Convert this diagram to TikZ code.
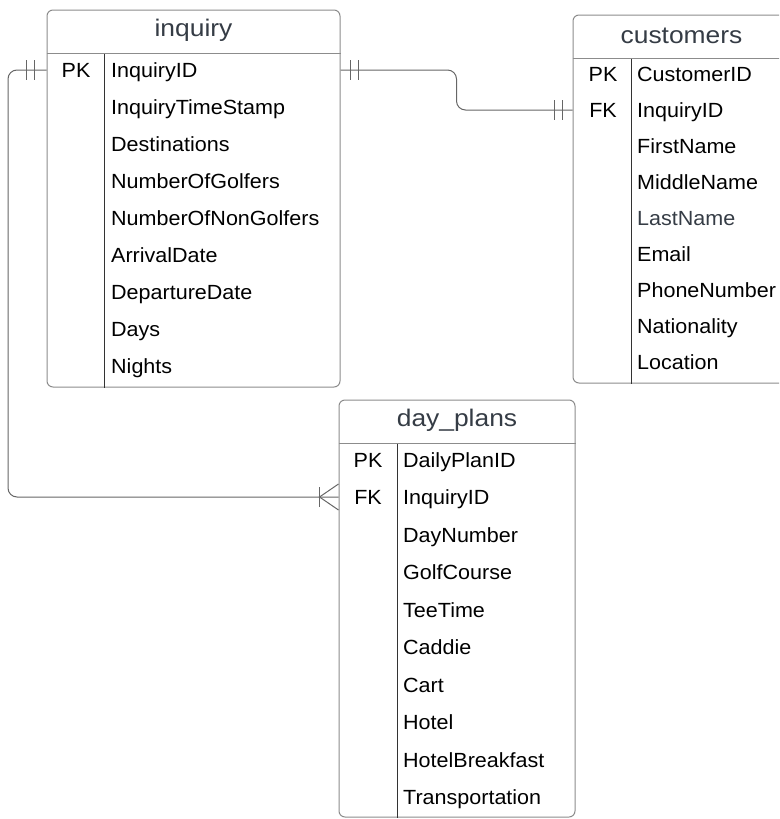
\documentclass[tikz,border=0pt]{standalone}
\usepackage{fontspec}
\setmainfont{Liberation Sans}
\newfontfamily\erfont[FakeStretch=1.05]{Liberation Sans}
\newfontfamily\erhead[FakeStretch=1.1]{Liberation Sans}
\usetikzlibrary{calc}

\definecolor{tblgray}{HTML}{8C8C8C}
\definecolor{relgray}{HTML}{666666}
\definecolor{ttlgray}{HTML}{353C45}

\tikzset{
  tbl/.style={draw=tblgray, line width=1pt, rounded corners=6pt, inner sep=0pt},
  sep/.style={draw=tblgray, line width=1pt},
  col/.style={draw=black!80, line width=0.8pt},
  ttl/.style={inner sep=0pt, text=ttlgray, font=\erhead\fontsize{24}{28}\selectfont},
  key/.style={inner sep=0pt, text height=14pt, text depth=0pt, font=\erfont\fontsize{20.5}{24}\selectfont},
  fld/.style={anchor=west, inner sep=0pt, text height=14pt, text depth=0pt, font=\erfont\fontsize{20.5}{24}\selectfont},
  rel/.style={draw=relgray, line width=1pt, rounded corners=9pt},
}

\begin{document}
\begin{tikzpicture}[x=1pt,y=-1pt]
  \clip (0,0) rectangle (779,819);

  % tables
  \node[tbl, minimum width=293pt, minimum height=377pt] (inquiry) at (193.5,198.5) {};
  \node[tbl, minimum width=217pt, minimum height=368pt] (customers) at (681.5,199) {};
  \node[tbl, minimum width=236pt, minimum height=417pt] (dayplans) at (457,608.5) {};

  % headers and key columns
  \draw[sep] ([yshift=-44pt]inquiry.north west) -- ([yshift=-44pt]inquiry.north east);
  \draw[sep] ([yshift=-44pt]customers.north west) -- ([yshift=-44pt]customers.north east);
  \draw[sep] ([yshift=-44pt]dayplans.north west) -- ([yshift=-44pt]dayplans.north east);
  \draw[col] ([xshift=58pt,yshift=-44pt]inquiry.north west) -- ([xshift=58pt]inquiry.south west);
  \draw[col] ([xshift=59pt,yshift=-44pt]customers.north west) -- ([xshift=59pt]customers.south west);
  \draw[col] ([xshift=59pt,yshift=-44pt]dayplans.north west) -- ([xshift=59pt]dayplans.south west);

  \node[ttl] (inquiry-t) at ([yshift=-21pt]inquiry.north) {inquiry};
  \node[ttl] (customers-t) at ([yshift=-21pt]customers.north) {customers};
  \node[ttl] (dayplans-t) at ([yshift=-21pt]dayplans.north) {day\_plans};

  % inquiry
  \node[key] (inq-pk) at (76,70) {PK};
  \foreach \f [count=\i] in {InquiryID, InquiryTimeStamp, Destinations,
      NumberOfGolfers, NumberOfNonGolfers, ArrivalDate, DepartureDate,
      Days, Nights}
    \node[fld] (inq-\i) at (111,{70+37*(\i-1)}) {\f};

  % customers
  \node[key] (cus-pk) at (603,74) {PK};
  \node[key] (cus-fk) at (603,110) {FK};
  \foreach \f [count=\i] in {CustomerID, InquiryID, FirstName, MiddleName,
      \textcolor{ttlgray}{LastName}, Email, PhoneNumber, Nationality, Location}
    \node[fld] (cus-\i) at (637,{74+36*(\i-1)}) {\f};

  % day_plans
  \node[key] (dp-pk) at (368,460) {PK};
  \node[key] (dp-fk) at (368,497) {FK};
  \foreach \f [count=\i] in {DailyPlanID, InquiryID, DayNumber, GolfCourse,
      TeeTime, Caddie, Cart, Hotel, HotelBreakfast, Transportation}
    \node[fld] (dp-\i) at (403,{460+37.5*(\i-1)}) {\f};

  % relations
  \coordinate (bend) at ($(inquiry.east)!0.5!(customers.west)$);
  \coordinate (loop) at (8,0);
  \draw[rel] (inquiry.east |- inq-pk) -| (bend |- cus-fk) -- (customers.west |- cus-fk);
  \draw[rel] (inquiry.west |- inq-pk) -| (loop |- dp-fk) -- (dayplans.west |- dp-fk);

  % one and only one
  \draw[relgray, line width=1pt] ($(inquiry.east |- inq-pk)+(10,-10)$) -- ++(0,20);
  \draw[relgray, line width=1pt] ($(inquiry.east |- inq-pk)+(18,-10)$) -- ++(0,20);
  \draw[relgray, line width=1pt] ($(customers.west |- cus-fk)+(-18,-10)$) -- ++(0,20);
  \draw[relgray, line width=1pt] ($(customers.west |- cus-fk)+(-10,-10)$) -- ++(0,20);
  \draw[relgray, line width=1pt] ($(inquiry.west |- inq-pk)+(-20,-10)$) -- ++(0,20);
  \draw[relgray, line width=1pt] ($(inquiry.west |- inq-pk)+(-12,-10)$) -- ++(0,20);
  % one or many
  \draw[relgray, line width=1pt] ($(dayplans.west |- dp-fk)+(-19,-10)$) -- ++(0,20);
  \draw[relgray, line width=1pt] ($(dayplans.west |- dp-fk)+(0,-13)$)
    -- ($(dayplans.west |- dp-fk)+(-19,0)$) -- ($(dayplans.west |- dp-fk)+(0,13)$);
\end{tikzpicture}
\end{document}
